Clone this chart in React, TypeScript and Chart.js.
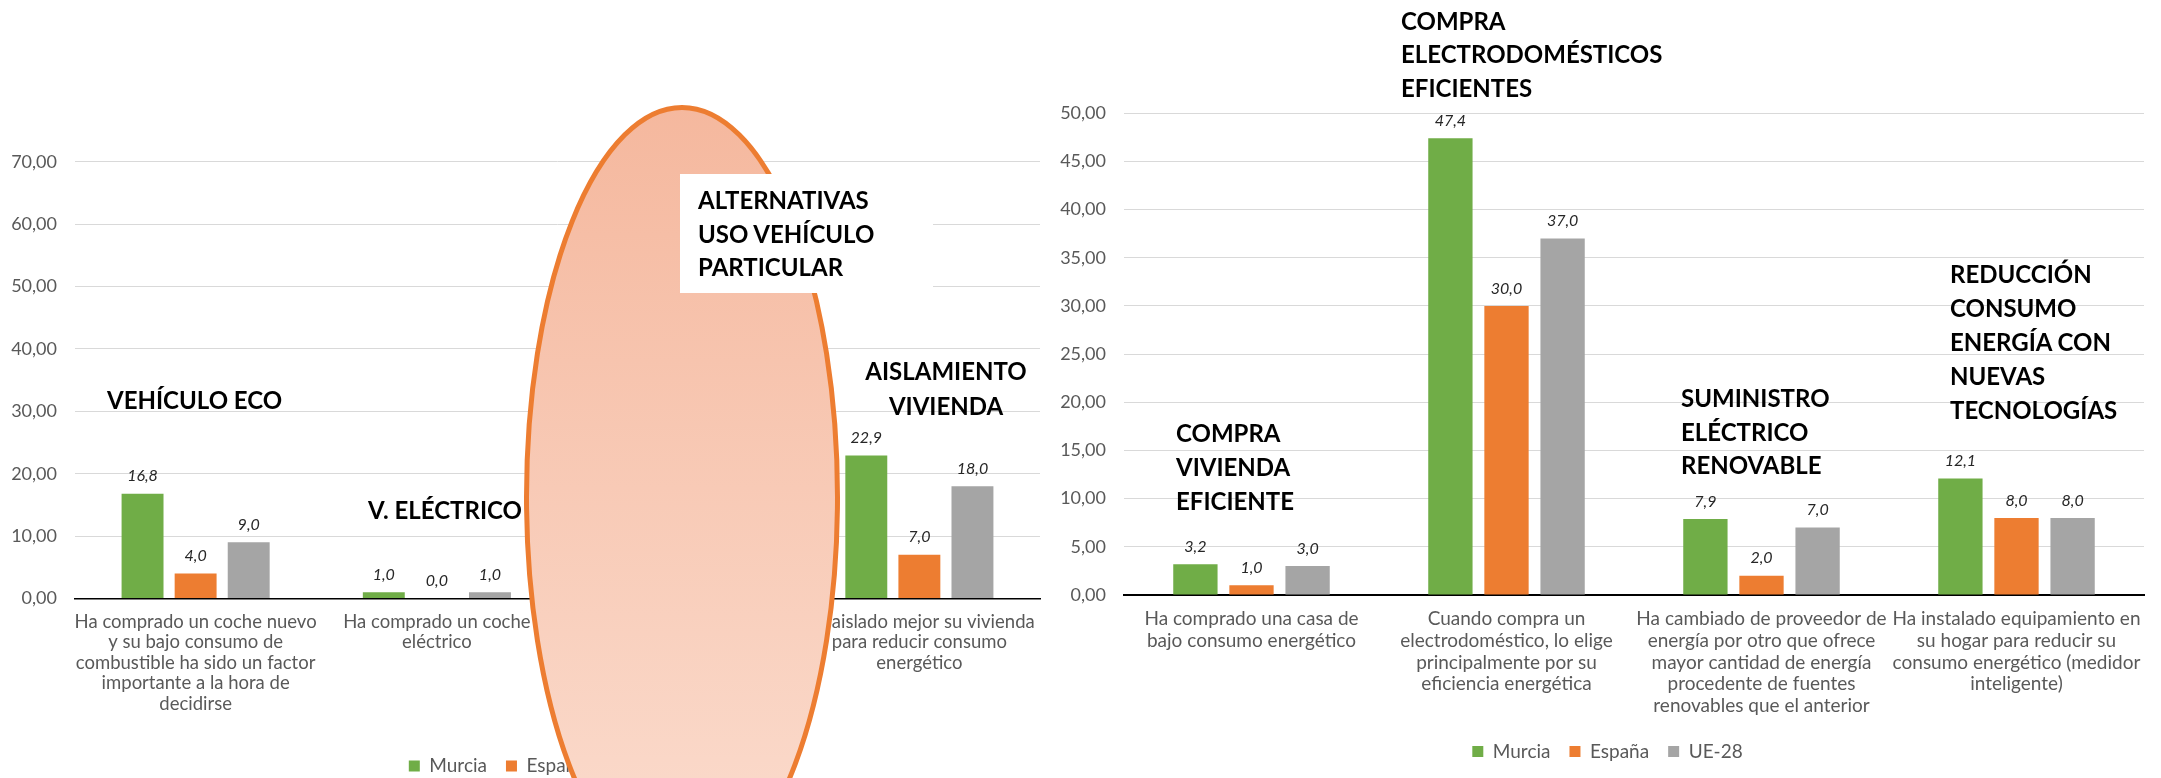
import React, { useEffect, useRef } from 'react';
import { Chart, registerables } from 'chart.js';

Chart.register(...registerables);

// ---------- data ----------
const seriesNames = ['Murcia', 'España', 'UE-28'];
const seriesColors = ['#70AD47', '#ED7D31', '#A5A5A5'];

const leftCategories: string[][] = [
  ['Ha comprado un coche nuevo', 'y su bajo consumo de', 'combustible ha sido un factor', 'importante a la hora de', 'decidirse'],
  ['Ha comprado un coche', 'eléctrico'],
  [''],
  ['Ha aislado mejor su vivienda', 'para reducir consumo', 'energético'],
];
const leftMurcia = [16.8, 1.0, null, 22.9];
const leftEspana = [4.0, 0.0, null, 7.0];
const leftUE = [9.0, 1.0, null, 18.0];
const leftYTicks = { min: 0, max: 70, step: 10 };

const rightCategories: string[][] = [
  ['Ha comprado una casa de', 'bajo consumo energético'],
  ['Cuando compra un', 'electrodoméstico, lo elige', 'principalmente por su', 'eficiencia energética'],
  ['Ha cambiado de proveedor de', 'energía por otro que ofrece', 'mayor cantidad de energía', 'procedente de fuentes', 'renovables que el anterior'],
  ['Ha instalado equipamiento en', 'su hogar para reducir su', 'consumo energético (medidor', 'inteligente)'],
];
const rightMurcia = [3.2, 47.4, 7.9, 12.1];
const rightEspana = [1.0, 30.0, 2.0, 8.0];
const rightUE = [3.0, 37.0, 7.0, 8.0];
const rightYTicks = { min: 0, max: 50, step: 5 };

const notes = [
  { lines: ['VEHÍCULO ECO'], left: 107, top: 383, lh: 33.5 },
  { lines: ['V. ELÉCTRICO'], left: 368, top: 493, lh: 33.5 },
  { lines: ['AISLAMIENTO', 'VIVIENDA'], left: 846, top: 353, lh: 35, width: 200, center: true },
  { lines: ['COMPRA', 'ELECTRODOMÉSTICOS', 'EFICIENTES'], left: 1401, top: 4, lh: 33.3 },
  { lines: ['COMPRA', 'VIVIENDA', 'EFICIENTE'], left: 1176, top: 416, lh: 34 },
  { lines: ['SUMINISTRO', 'ELÉCTRICO', 'RENOVABLE'], left: 1681, top: 381, lh: 33.7 },
  { lines: ['REDUCCIÓN', 'CONSUMO', 'ENERGÍA CON', 'NUEVAS', 'TECNOLOGÍAS'], left: 1950, top: 257, lh: 34 },
];
const boxNote = ['ALTERNATIVAS', 'USO VEHÍCULO', 'PARTICULAR'];

// ---------- helpers ----------
const fmt2 = (v: any) => Number(v).toFixed(2).replace('.', ',');
const fmt1 = (v: number) => v.toFixed(1).replace('.', ',');

const valueLabels = {
  id: 'valueLabels',
  afterDatasetsDraw(chart: any) {
    const ctx = chart.ctx;
    ctx.save();
    ctx.font = 'italic 16px Lato';
    ctx.fillStyle = '#262626';
    ctx.textAlign = 'center';
    ctx.textBaseline = 'middle';
    chart.data.datasets.forEach((ds: any, i: number) => {
      const meta = chart.getDatasetMeta(i);
      meta.data.forEach((el: any, j: number) => {
        const v = ds.data[j];
        if (v === null || v === undefined) return;
        ctx.fillText(fmt1(v), el.x, el.y - 17.5);
      });
    });
    ctx.restore();
  },
};

const legendShift = (dx: number) => ({
  id: 'legendShift',
  afterLayout(chart: any) {
    const l = chart.legend;
    if (l) {
      l.left += dx;
      l.right += dx;
    }
  },
});

function makeConfig(
  labels: string[][],
  m: (number | null)[],
  e: (number | null)[],
  u: (number | null)[],
  yt: { min: number; max: number; step: number },
  lay: { padL: number; padR: number; padT: number; padB: number; yW: number; xH: number; xFont: number; xLH: number; xPad: number; border: number; legDx: number }
): any {
  const vals = [m, e, u];
  return {
    type: 'bar',
    data: {
      labels,
      datasets: seriesNames.map((n, i) => ({
        label: n,
        data: vals[i],
        backgroundColor: seriesColors[i],
        borderWidth: 0,
      })),
    },
    options: {
      animation: false,
      responsive: true,
      maintainAspectRatio: false,
      devicePixelRatio: 1,
      layout: { padding: { left: lay.padL, right: lay.padR, top: lay.padT, bottom: lay.padB } },
      datasets: { bar: { categoryPercentage: 0.66, barPercentage: 0.79 } },
      scales: {
        x: {
          grid: { display: false, drawTicks: false },
          border: { display: true, color: '#000000', width: lay.border },
          ticks: {
            color: '#595959',
            font: { family: 'Lato', size: lay.xFont, lineHeight: lay.xLH },
            padding: lay.xPad,
            maxRotation: 0,
            minRotation: 0,
            autoSkip: false,
          },
          afterFit: (s: any) => { s.height = lay.xH; },
        },
        y: {
          min: yt.min,
          max: yt.max,
          ticks: {
            stepSize: yt.step,
            callback: (v: any) => fmt2(v),
            color: '#595959',
            font: { family: 'Lato', size: 18 },
            padding: 18,
          },
          grid: { color: '#D9D9D9', lineWidth: 1, drawTicks: false },
          border: { display: false },
          afterFit: (s: any) => { s.width = lay.yW; },
        },
      },
      plugins: {
        legend: {
          position: 'bottom',
          labels: {
            boxWidth: 11,
            boxHeight: 11,
            padding: 19,
            color: '#595959',
            font: { family: 'Lato', size: 19 },
          },
        },
        tooltip: { enabled: false },
      },
    },
    plugins: [valueLabels, legendShift(lay.legDx)],
  };
}

export default function App() {
  const leftRef = useRef<HTMLCanvasElement>(null);
  const rightRef = useRef<HTMLCanvasElement>(null);

  useEffect(() => {
    document.body.style.margin = '0';
    const left = new Chart(
      leftRef.current as HTMLCanvasElement,
      makeConfig(leftCategories, leftMurcia, leftEspana, leftUE, leftYTicks, {
        padL: 8, padR: 44, padT: 161.7, padB: 14.5, yW: 67, xH: 139, xFont: 18.5, xLH: 1.108, xPad: 13, border: 1.5, legDx: 20,
      })
    );
    const right = new Chart(
      rightRef.current as HTMLCanvasElement,
      makeConfig(rightCategories, rightMurcia, rightEspana, rightUE, rightYTicks, {
        padL: 8, padR: 17, padT: 113.3, padB: 29, yW: 71, xH: 128, xFont: 19, xLH: 1.142, xPad: 13.2, border: 2, legDx: 9,
      })
    );
    return () => {
      left.destroy();
      right.destroy();
    };
  }, []);

  const noteFont: React.CSSProperties = {
    fontFamily: 'Lato',
    fontWeight: 700,
    fontSize: 24,
    color: '#000',
    whiteSpace: 'nowrap',
    position: 'absolute',
  };

  return (
    <div style={{ position: 'relative', width: 2161, height: 778, overflow: 'hidden', background: '#ffffff' }}>
      <div style={{ position: 'absolute', left: 0, top: 0, width: 1084, height: 800 }}>
        <canvas ref={leftRef} />
      </div>
      <div style={{ position: 'absolute', left: 1045, top: 0, width: 1116, height: 800 }}>
        <canvas ref={rightRef} />
      </div>
      {notes.map((n, i) => (
        <div
          key={i}
          style={{
            ...noteFont,
            left: n.left,
            top: n.top,
            lineHeight: n.lh + 'px',
            width: n.width,
            textAlign: n.center ? 'center' : 'left',
          }}
        >
          {n.lines.map((l, k) => (
            <div key={k}>{l}</div>
          ))}
        </div>
      ))}
      <svg width={2161} height={778} style={{ position: 'absolute', left: 0, top: 0, pointerEvents: 'none' }}>
        <defs>
          <linearGradient id="ellGrad" x1="0" y1="0" x2="0" y2="1">
            <stop offset="0" stopColor="#F5B89E" />
            <stop offset="1" stopColor="#FBDDCF" />
          </linearGradient>
        </defs>
        <ellipse cx={682} cy={497} rx={155.5} ry={389.5} fill="url(#ellGrad)" stroke="#ED7D31" strokeWidth={5} />
      </svg>
      <div style={{ position: 'absolute', left: 680, top: 174, width: 253, height: 119, background: '#ffffff' }}>
        <div style={{ ...noteFont, left: 18, top: 9.3, lineHeight: '33.5px' }}>
          {boxNote.map((l, k) => (
            <div key={k}>{l}</div>
          ))}
        </div>
      </div>
    </div>
  );
}
